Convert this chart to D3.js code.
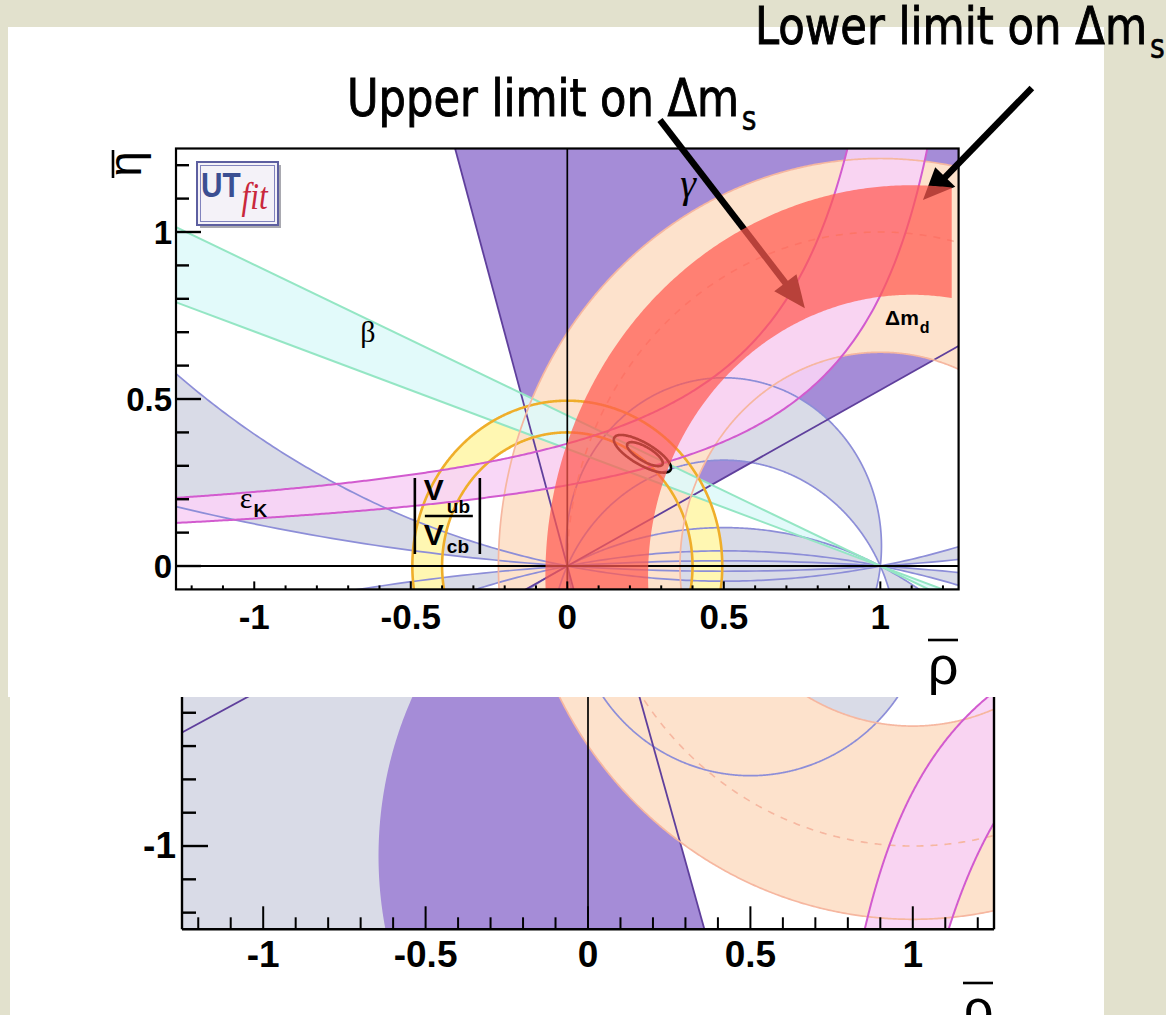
<!DOCTYPE html>
<html>
<head>
<meta charset="utf-8">
<title>UTfit — constraints in the (ρ̄, η̄) plane</title>
<script src="https://cdn.jsdelivr.net/npm/d3@7"></script>
<style>
  html, body { margin: 0; padding: 0; background: #e2e1cd; }
  svg { display: block; }
</style>
</head>
<body>
<svg id="chart" width="1166" height="1015"></svg>
<script>
// ---------- axis ranges and ticks ----------
const rhoDomain = [-1.25, 1.25];
const etaDomainTop = [-0.07, 1.25];
const etaDomainBottom = [-1.25, -0.5527];
const rhoMajorTicks = [-1, -0.5, 0, 0.5, 1];
const rhoTickLabels = ["-1", "-0.5", "0", "0.5", "1"];
const etaMajorTicksTop = [0, 0.5, 1];
const etaTickLabelsTop = ["0", "0.5", "1"];
const etaMajorTicksBottom = [-1];
const etaTickLabelsBottom = ["-1"];

// ---------- constraints ----------
// alpha: circles through (0,0) and (1,0), centre (0.5, k)
const alphaCircleK = { A: 0.06, B: -0.236, C: -1.03, E: 2.73, F: 7.99, Em: -2.73, Fm: -7.99 };
const alphaShadeTop = [["A", "B", "C"], ["E", "F"], ["Em", "Fm"]];
const alphaShadeBottom = [["frame", "C", "B"]];
const alphaLinesTop = ["A", "B", "C", "E", "F", "Em", "Fm"];
const alphaLinesBottom = ["B"];
// gamma: wedges from the origin (degrees)
const gammaWedges = [[27.8, 106], [207.8, 286]];
// beta: lines through (1,0), eta = s (1 - rho)
const betaSlopes = [0.451, 0.351];
// |Vub/Vcb|: ring around the origin
const vubRadii = [0.40, 0.495];
// Delta m_d: ring around (1,0) and its central value
const dmdRadii = [0.64, 1.22];
const dmdCentral = [1.0];
// epsilon_K, upper branch: eta = a/(b - rho) + c
const epsKTop = [{ a: 0.3915, b: 1.22, c: 0.0455 }, { a: 0.345, b: 1.426, c: 0 }];
// epsilon_K, lower branch: rho = c + a/(-eta)
const epsKBottom = [{ a: 0.375, c: 0.552 }, { a: 0.509, c: 0.703 }];
// Delta m_s band: ring centred at (rho0, eta0), cut at rhoMax
const dmsBand = { rho0: 1.1, eta0: -0.03, rIn: 0.842, rOut: 1.17, rhoMax: 1.228 };
// fit contours: centre and half-axis vectors
const fitContours = [
  { rho: 0.240, eta: 0.336, u: [0.090, -0.048], v: [0.0155, 0.0296] },
  { rho: 0.248, eta: 0.335, u: [0.056, -0.031], v: [0.0112, 0.0181] }
];
// annotation arrows, tail -> tip in (rho, eta)
const dmsArrows = [
  { from: [0.296, 1.335], to: [0.759, 0.772] },
  { from: [1.484, 1.431], to: [1.136, 1.096] }
];
const dmsNotes = [
  { text: "Upper limit on Δm", sub: "s", x: 347, y: 116 },
  { text: "Lower limit on Δm", sub: "s", x: 755, y: 44 }
];

const col = {
  gammaFill: "#a58cd7", gammaLine: "#5f3f9c",
  alphaFill: "#d9dbe7", alphaLine: "#8d8ed8",
  betaFill: "#dffafa", betaLine: "#94e6c4",
  vubFill: "#fff7b2", vubLine: "#efae2a",
  dmdFill: "#fde2cc", dmdLine: "#f6b7a0",
  epsFill: "#f8d3f6", epsLine: "#d25bcf",
  dms: "#ff5a50"
};

const svg = d3.select("#chart");
const FONT = "'Liberation Sans', Arial, Helvetica, sans-serif";
const SERIF = "'Liberation Serif', 'DejaVu Serif', serif";

// slide background and white picture areas
svg.append("rect").attr("width", 1166).attr("height", 1015).attr("fill", "#e2e1cd");
svg.append("rect").attr("x", 8).attr("y", 27).attr("width", 1096).attr("height", 670).attr("fill", "#fff");
svg.append("rect").attr("x", 10).attr("y", 697).attr("width", 1094).attr("height", 318).attr("fill", "#fff");

// ---------- geometry helpers ----------
const deg = Math.PI / 180;
const circle = (cx, cy, r, n = 1440) =>
  d3.range(n).map(i => { const t = 2 * Math.PI * i / n; return [cx + r * Math.cos(t), cy + r * Math.sin(t)]; });
const alphaCircle = key => { const k = alphaCircleK[key]; return circle(0.5, k, Math.hypot(0.5, k)); };
const ray = (a, R = 6) => [R * Math.cos(a * deg), R * Math.sin(a * deg)];
function wedge(a1, a2) {
  const n = Math.ceil((a2 - a1) / 0.5);
  return [[0, 0], ...d3.range(n + 1).map(i => ray(a1 + (a2 - a1) * i / n))];
}
const frameRect = [[-4, -4], [4, -4], [4, 4], [-4, 4]];
function epsCurveTop(p, etaMax = 1.7) {
  const rMax = p.b - p.a / (etaMax - p.c);
  return d3.range(401).map(i => { const r = -1.4 + (rMax + 1.4) * i / 400; return [r, p.a / (p.b - r) + p.c]; });
}
function epsCurveBottom(p) {
  return d3.range(301).map(i => { const e = -1.4 + 0.95 * i / 300; return [p.c + p.a / (-e), e]; });
}
function dmsPoints(b, etaCut = -0.3) {
  const arc = (r, a0, a1, n = 300) => d3.range(n + 1).map(i => {
    const t = a0 + (a1 - a0) * i / n; return [b.rho0 + r * Math.cos(t), b.eta0 + r * Math.sin(t)];
  });
  const s = etaCut - b.eta0;
  const oStart = Math.PI - Math.asin(s / b.rOut), oEnd = Math.acos((b.rhoMax - b.rho0) / b.rOut);
  const iStart = Math.acos((b.rhoMax - b.rho0) / b.rIn), iEnd = Math.PI - Math.asin(s / b.rIn);
  return [...arc(b.rOut, oStart, oEnd), ...arc(b.rIn, iStart, iEnd)];
}
function ellipse(c, n = 200) {
  return d3.range(n).map(i => { const t = 2 * Math.PI * i / n;
    return [c.rho + c.u[0] * Math.cos(t) + c.v[0] * Math.sin(t), c.eta + c.u[1] * Math.cos(t) + c.v[1] * Math.sin(t)]; });
}

// ---------- panels ----------
function makePanel(name, xRange, yRange, etaDom) {
  const x = d3.scaleLinear().domain(rhoDomain).range(xRange);
  const y = d3.scaleLinear().domain(etaDom).range(yRange);
  const x0 = xRange[0], x1 = xRange[1], y0 = yRange[1], y1 = yRange[0];
  svg.append("clipPath").attr("id", "clip-" + name).append("rect")
    .attr("x", x0).attr("y", y0).attr("width", x1 - x0).attr("height", y1 - y0);
  const p = { name, x, y, x0, x1, y0, y1 };
  p.d = (pts, close = true) => "M" + pts.map(([r, e]) => x(r).toFixed(2) + "," + y(e).toFixed(2)).join("L") + (close ? "Z" : "");
  p.layer = () => svg.append("g").attr("clip-path", `url(#clip-${name})`);
  return p;
}

const upperPanel = makePanel("upper", [176, 958.6], [589.4, 148.5], etaDomainTop);
const lowerPanel = makePanel("lower", [182, 994], [929.3, 697], etaDomainBottom);

function drawConstraints(p, opt) {
  const g = p.layer();
  // gamma
  g.append("path").attr("d", gammaWedges.map(w => p.d(wedge(w[0], w[1]))).join(""))
    .attr("fill", col.gammaFill);
  // alpha shading (even-odd between circles)
  opt.alphaShade.forEach(group => {
    const d = group.map(k => k === "frame" ? p.d(frameRect) : p.d(alphaCircle(k))).join("");
    g.append("path").attr("d", d).attr("fill", col.alphaFill).attr("fill-rule", "evenodd");
  });
  // |Vub/Vcb|
  if (opt.vub) g.append("path").attr("d", vubRadii.map(r => p.d(circle(0, 0, r))).join(""))
    .attr("fill", col.vubFill).attr("fill-rule", "evenodd");
  // Delta m_d
  g.append("path").attr("d", dmdRadii.map(r => p.d(circle(1, 0, r))).join(""))
    .attr("fill", col.dmdFill).attr("fill-rule", "evenodd");
  // epsilon_K
  const epsCurves = opt.upperEps ? epsKTop.map(c => epsCurveTop(c)) : epsKBottom.map(c => epsCurveBottom(c));
  g.append("path").attr("d", p.d([...epsCurves[0], ...epsCurves[1].slice().reverse()]))
    .attr("fill", col.epsFill).attr("opacity", 0.9);
  // beta
  if (opt.beta) {
    const [s1, s2] = betaSlopes;
    const tri1 = [[-4, 5 * s1], [1, 0], [-4, 5 * s2]];
    const tri2 = [[1, 0], [4, -3 * s1], [4, -3 * s2]];
    g.append("path").attr("d", p.d(tri1) + p.d(tri2)).attr("fill", col.betaFill).attr("opacity", 0.9);
  }

  // ---- contour lines ----
  opt.alphaLines.forEach(k => g.append("path").attr("d", p.d(alphaCircle(k)))
    .attr("fill", "none").attr("stroke", col.alphaLine).attr("stroke-width", 1.7));
  gammaWedges.flat().forEach(a => g.append("path").attr("d", p.d([[0, 0], ray(a)], false))
    .attr("fill", "none").attr("stroke", col.gammaLine).attr("stroke-width", 1.8));
  if (opt.beta) betaSlopes.forEach(s => g.append("path").attr("d", p.d([[-4, 5 * s], [4, -3 * s]], false))
    .attr("fill", "none").attr("stroke", col.betaLine).attr("stroke-width", 2));
  if (opt.vub) vubRadii.forEach(r => g.append("path").attr("d", p.d(circle(0, 0, r)))
    .attr("fill", "none").attr("stroke", col.vubLine).attr("stroke-width", 2.6));
  dmdRadii.forEach(r => g.append("path").attr("d", p.d(circle(1, 0, r)))
    .attr("fill", "none").attr("stroke", col.dmdLine).attr("stroke-width", 1.7));
  dmdCentral.forEach(r => g.append("path").attr("d", p.d(circle(1, 0, r)))
    .attr("fill", "none").attr("stroke", col.dmdLine).attr("stroke-width", 1.6).attr("stroke-dasharray", "7,7"));
  epsCurves.forEach(c => g.append("path").attr("d", p.d(c, false))
    .attr("fill", "none").attr("stroke", col.epsLine).attr("stroke-width", 2));
  // zero lines
  g.append("line").attr("x1", p.x(0)).attr("x2", p.x(0)).attr("y1", p.y0).attr("y2", p.y1)
    .attr("stroke", "#000").attr("stroke-width", 1.7);
  if (opt.zeroEta) g.append("line").attr("x1", p.x0).attr("x2", p.x1).attr("y1", p.y(0)).attr("y2", p.y(0))
    .attr("stroke", "#000").attr("stroke-width", 2);
  // fit contours
  if (opt.fit) fitContours.forEach(c => g.append("path").attr("d", p.d(ellipse(c)))
    .attr("fill", "none").attr("stroke", "#000").attr("stroke-width", 2.6));
}

drawConstraints(upperPanel, { alphaShade: alphaShadeTop, alphaLines: alphaLinesTop, vub: true, beta: true,
  upperEps: true, zeroEta: true, fit: true });
drawConstraints(lowerPanel, { alphaShade: alphaShadeBottom, alphaLines: alphaLinesBottom, vub: false, beta: false,
  upperEps: false, zeroEta: false, fit: false });

// ---------- arrows pointing at the Delta m_s limits ----------
const arrowG = svg.append("g");
dmsArrows.forEach(a => {
  const P = upperPanel;
  const x1 = P.x(a.from[0]), y1 = P.y(a.from[1]), x2 = P.x(a.to[0]), y2 = P.y(a.to[1]);
  const L = Math.hypot(x2 - x1, y2 - y1), ux = (x2 - x1) / L, uy = (y2 - y1) / L;
  const hl = 32, hw = 14, bx = x2 - ux * hl, by = y2 - uy * hl;
  arrowG.append("line").attr("x1", x1).attr("y1", y1).attr("x2", bx + ux * 3).attr("y2", by + uy * 3)
    .attr("stroke", "#000").attr("stroke-width", 6.5);
  arrowG.append("path").attr("d", `M${x2},${y2}L${bx - uy * hw},${by + ux * hw}L${bx + uy * hw},${by - ux * hw}Z`)
    .attr("fill", "#000");
});

// ---------- Delta m_s band (translucent overlay) ----------
upperPanel.layer().append("path").attr("d", upperPanel.d(dmsPoints(dmsBand)))
  .attr("fill", col.dms).attr("opacity", 0.72);

// ---------- frames, ticks, tick labels ----------
function drawAxes(p, o) {
  const g = svg.append("g");
  const ln = (x1, y1, x2, y2, w = 2) => g.append("line").attr("x1", x1).attr("y1", y1).attr("x2", x2).attr("y2", y2)
    .attr("stroke", "#000").attr("stroke-width", w);
  if (o.fullFrame) g.append("rect").attr("x", p.x0).attr("y", p.y0).attr("width", p.x1 - p.x0).attr("height", p.y1 - p.y0)
    .attr("fill", "none").attr("stroke", "#000").attr("stroke-width", 2.2);
  else { ln(p.x0, p.y0, p.x0, p.y1, 2.4); ln(p.x0, p.y1, p.x1, p.y1, 2.4); ln(p.x1, p.y0, p.x1, p.y1, 2.4); }
  d3.range(-12, 13).forEach(i => {
    const v = i / 10, major = i % 5 === 0;
    ln(p.x(v), p.y1, p.x(v), p.y1 - (major ? o.xMaj : o.xMin), 2);
  });
  o.etaMinor.forEach(v => {
    const major = o.etaMajor.some(m => Math.abs(m - v) < 1e-9);
    ln(p.x0, p.y(v), p.x0 + (major ? o.yMaj : o.yMin), p.y(v), 2.4);
  });
  rhoMajorTicks.forEach((v, i) => g.append("text").attr("x", p.x(v)).attr("y", o.xLabelY)
    .attr("text-anchor", "middle").attr("font-family", FONT).attr("font-weight", "bold")
    .attr("font-size", o.xFont).text(rhoTickLabels[i]));
  o.etaMajor.forEach((v, i) => g.append("text").attr("x", o.yLabelX).attr("y", p.y(v) + 12)
    .attr("text-anchor", "end").attr("font-family", FONT).attr("font-weight", "bold")
    .attr("font-size", o.yFont).text(o.etaLabels[i]));
  // rho-bar axis title
  g.append("line").attr("x1", o.rhoX - 15).attr("x2", o.rhoX + 15).attr("y1", o.rhoBarY).attr("y2", o.rhoBarY)
    .attr("stroke", "#000").attr("stroke-width", 2.6);
  g.append("text").attr("x", o.rhoX).attr("y", o.rhoBarY + 44).attr("text-anchor", "middle")
    .attr("font-family", FONT).attr("font-size", 54).text("ρ");
}

drawAxes(upperPanel, { fullFrame: true, xMaj: 8, xMin: 4, yMaj: 25, yMin: 13,
  etaMinor: d3.range(0, 13).map(i => i / 10), etaMajor: etaMajorTicksTop, etaLabels: etaTickLabelsTop,
  xLabelY: 629, xFont: 35, yLabelX: 172, yFont: 33, rhoX: 943, rhoBarY: 640 });
drawAxes(lowerPanel, { fullFrame: false, xMaj: 23, xMin: 12, yMaj: 26, yMin: 14,
  etaMinor: d3.range(-12, -5).map(i => i / 10), etaMajor: etaMajorTicksBottom, etaLabels: etaTickLabelsBottom,
  xLabelY: 967, xFont: 37, yLabelX: 176, yFont: 37, rhoX: 978, rhoBarY: 983 });

// eta-bar axis title (rotated)
const etaT = svg.append("g").attr("transform", "translate(141,164) rotate(-90)");
etaT.append("text").attr("x", 0).attr("y", 0).attr("text-anchor", "middle")
  .attr("font-family", FONT).attr("font-size", 46).text("η");
etaT.append("line").attr("x1", -14).attr("x2", 14).attr("y1", -28).attr("y2", -28)
  .attr("stroke", "#000").attr("stroke-width", 2.6);

// ---------- constraint labels (main symbol + subscript in one text) ----------
const U = upperPanel;
const lab = svg.append("g");
function subText(g, x, y, main, sub, o) {
  const t = g.append("text").attr("x", x).attr("y", y).attr("font-family", o.family || FONT)
    .attr("font-size", o.size).attr("font-weight", o.weight || "normal");
  t.append("tspan").text(main);
  t.append("tspan").attr("dx", o.dx || 0).attr("dy", o.dy).attr("font-family", o.subFamily || FONT)
    .attr("font-weight", "bold").attr("font-size", o.subSize).text(sub);
  return t;
}
lab.append("text").attr("x", U.x(0.386)).attr("y", U.y(1.105)).attr("text-anchor", "middle")
  .attr("font-family", SERIF).attr("font-style", "italic").attr("font-size", 40).text("γ");
lab.append("text").attr("x", U.x(-0.637)).attr("y", U.y(0.671)).attr("text-anchor", "middle")
  .attr("font-family", SERIF).attr("font-size", 30).text("β");
subText(lab, U.x(-1.046), U.y(0.174), "ε", "K", { family: SERIF, size: 30, subSize: 19, dy: 9, dx: 1 });
subText(lab, U.x(1.015), U.y(0.7216), "Δm", "d", { size: 21, weight: "bold", subSize: 16, dy: 8, dx: 1 });

// |Vub / Vcb|
const vx = U.x(-0.487), vy = U.y(0.2635);
const vl = lab.append("g").attr("transform", `translate(${vx},${vy})`);
vl.append("line").attr("x1", 0).attr("x2", 0).attr("y1", 0).attr("y2", 76).attr("stroke", "#000").attr("stroke-width", 2.6);
vl.append("line").attr("x1", 65).attr("x2", 65).attr("y1", 0).attr("y2", 76).attr("stroke", "#000").attr("stroke-width", 2.6);
vl.append("line").attr("x1", 10).attr("x2", 58).attr("y1", 38).attr("y2", 38).attr("stroke", "#000").attr("stroke-width", 2.4);
subText(vl, 9, 22, "V", "ub", { size: 30, weight: "bold", subSize: 19, dy: 13, dx: 3 });
subText(vl, 9, 67, "V", "cb", { size: 30, weight: "bold", subSize: 19, dy: 8, dx: 3 });

// UTfit logo
const logo = svg.append("g").attr("transform", "translate(197,162)");
logo.append("rect").attr("x", 3).attr("y", 3).attr("width", 81).attr("height", 63).attr("fill", "#a9a9b0");
logo.append("rect").attr("x", 0).attr("y", 0).attr("width", 81).attr("height", 63)
  .attr("fill", "#f4f2f8").attr("stroke", "#5d5fa0").attr("stroke-width", 2);
logo.append("rect").attr("x", 3.5).attr("y", 3.5).attr("width", 74).attr("height", 56)
  .attr("fill", "none").attr("stroke", "#8183bd").attr("stroke-width", 1);
const logoT = logo.append("text").attr("x", 4).attr("y", 35);
logoT.append("tspan").attr("font-family", FONT).attr("font-weight", "bold").attr("font-size", 36)
  .attr("fill", "#3b4f92").text("UT");
logoT.append("tspan").attr("dy", 12).attr("dx", 1).attr("font-family", SERIF).attr("font-style", "italic")
  .attr("font-size", 38).attr("fill", "#c9283c").text("fit");
(function fitLogo() {
  const w = logoT.node().getComputedTextLength();
  const s = 66 / w;
  logoT.attr("transform", `translate(4,35) scale(${s},1) translate(-4,-35)`);
})();

// ---------- slide annotations ----------
const NOTE = "'Comic Sans MS', 'DejaVu Sans Condensed', 'DejaVu Sans', sans-serif";
const note = svg.append("g");
dmsNotes.forEach(n => {
  const t = note.append("text").attr("x", 0).attr("y", 0).attr("font-family", NOTE).attr("font-size", 52)
    .attr("stroke", "#000").attr("stroke-width", 0.9);
  t.append("tspan").text(n.text);
  t.append("tspan").attr("dx", 3).attr("dy", 14).attr("font-size", 34).attr("stroke-width", 0.6).text(n.sub);
  const w = t.node().getComputedTextLength();
  t.attr("transform", `translate(${n.x},${n.y}) scale(${407 / w},1)`);
});
</script>
</body>
</html>
